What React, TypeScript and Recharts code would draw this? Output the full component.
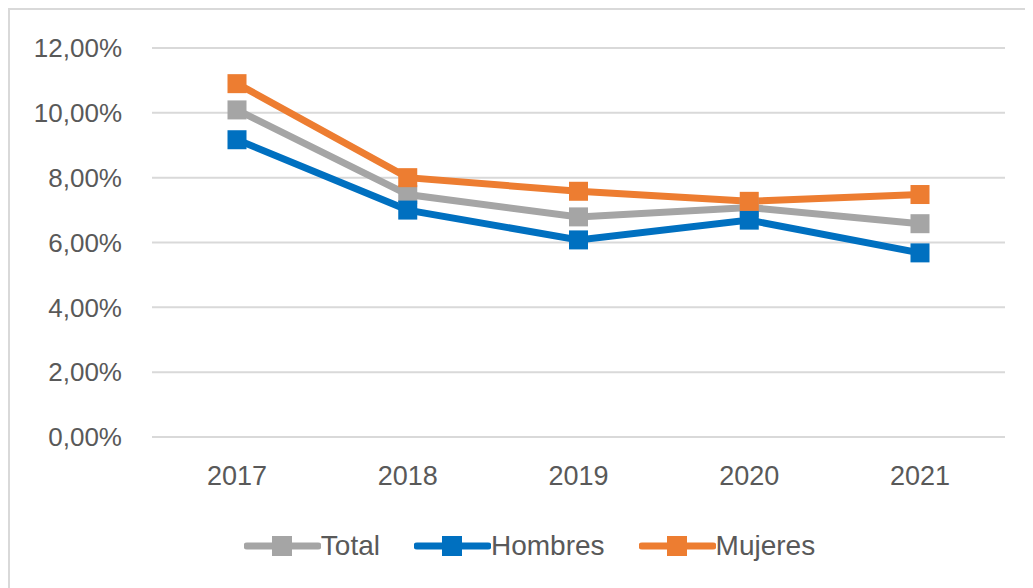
import React from 'react';
import { LineChart, Line, XAxis, YAxis, CartesianGrid, Legend } from 'recharts';

const years = ['2017', '2018', '2019', '2020', '2021'];
const total = [10.09, 7.48, 6.79, 7.08, 6.58];
const hombres = [9.17, 7.0, 6.08, 6.69, 5.68];
const mujeres = [10.9, 8.0, 7.58, 7.27, 7.48];
const yTicks = [0, 2, 4, 6, 8, 10, 12];

const series = [
  { key: 'total', name: 'Total', color: '#A5A5A5' },
  { key: 'hombres', name: 'Hombres', color: '#0070C0' },
  { key: 'mujeres', name: 'Mujeres', color: '#ED7D31' },
];

const data = years.map((year, i) => ({
  year,
  total: total[i],
  hombres: hombres[i],
  mujeres: mujeres[i],
}));

const textColor = '#595959';
const font = '"Liberation Sans", Arial, sans-serif';

const fmt = (v: number) => v.toFixed(2).replace('.', ',') + '%';

const SquareDot = (color: string) => (props: any) => {
  const { cx, cy } = props;
  if (cx == null || cy == null) return null;
  return <rect key={`${cx}-${cy}`} x={cx - 9.5} y={cy - 9.5} width={19} height={19} fill={color} />;
};

const LegendContent = () => (
  <div style={{ display: 'flex', justifyContent: 'center', gap: 34, fontFamily: font, fontSize: 28, color: textColor, paddingLeft: 44 }}>
    {series.map((s) => (
      <div key={s.key} style={{ display: 'flex', alignItems: 'center' }}>
        <svg width={77} height={22}>
          <line x1={3} y1={11} x2={74} y2={11} stroke={s.color} strokeWidth={7} strokeLinecap="round" />
          <rect x={28} y={1} width={20} height={20} fill={s.color} />
        </svg>
        <span>{s.name}</span>
      </div>
    ))}
  </div>
);

const App: React.FC = () => {
  return (
    <div style={{ width: 1025, height: 580, borderLeft: '2px solid #d9d9d9', borderTop: '2px solid #d9d9d9', boxSizing: 'border-box', background: '#fff' }}>
      <LineChart width={1023} height={578} data={data} margin={{ top: 38, right: 28, bottom: 28, left: 0 }}>
        <CartesianGrid vertical={false} stroke="#d9d9d9" strokeWidth={2} />
        <XAxis
          dataKey="year"
          axisLine={false}
          tickLine={false}
          padding={{ left: 85, right: 85 }}
          tickMargin={23}
          height={93}
          tick={{ fill: textColor, fontSize: 27, fontFamily: font }}
        />
        <YAxis
          domain={[0, 12]}
          ticks={yTicks}
          tickFormatter={fmt}
          axisLine={false}
          tickLine={false}
          width={142}
          tickMargin={24}
          tick={{ fill: textColor, fontSize: 26, fontFamily: font }}
        />
        <Legend verticalAlign="bottom" height={30} content={<LegendContent />} />
        {series.map((s) => (
          <Line
            key={s.key}
            dataKey={s.key}
            name={s.name}
            stroke={s.color}
            strokeWidth={7}
            dot={SquareDot(s.color)}
            activeDot={false}
            isAnimationActive={false}
          />
        ))}
      </LineChart>
    </div>
  );
};

export default App;
